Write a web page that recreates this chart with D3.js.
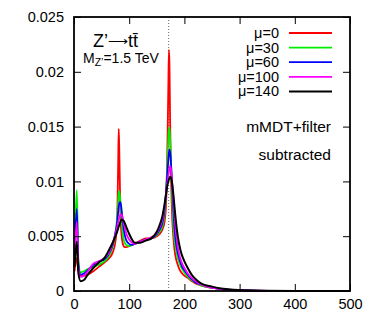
<!DOCTYPE html>
<html><head><meta charset="utf-8">
<script src="https://cdn.jsdelivr.net/npm/d3@7"></script>
<style>body{margin:0;background:#fff}svg{display:block}text{font-family:"Liberation Sans",Arial,sans-serif}</style>
</head><body>
<svg id="c" width="376" height="319"></svg>
<script>
const mass = [1,5,8,12,18,25,35,45,55,62,70,75,78,80,81,82,84,86,88,90,92,95,100,105,110,120,130,140,150,155,160,164,167,169,171,172,173,174,175,176,178,180,182,185,188,190,193,196,200,206,213,220,230,250,270,300,350,400,450,500];
const mu0 = [0.0018,0.0030,0.0018,0.0014,0.0014,0.0015,0.0018,0.0022,0.0026,0.0029,0.0035,0.0045,0.0062,0.0115,0.0148,0.0130,0.0072,0.0052,0.0044,0.0041,0.0040,0.0040,0.0041,0.0042,0.0043,0.0046,0.0048,0.0048,0.0050,0.0052,0.0056,0.0063,0.0082,0.0125,0.0190,0.0220,0.0205,0.0160,0.0128,0.0100,0.0066,0.0049,0.0038,0.0029,0.0024,0.0021,0.0018,0.0016,0.0014,0.0012,0.0009,0.0007,0.0005,0.0003,0.00015,0.00006,0.00001,0,0,0];
const mu30 = [0.0040,0.0092,0.0028,0.0017,0.0018,0.0020,0.0022,0.0024,0.0027,0.0031,0.0040,0.0052,0.0066,0.0082,0.0089,0.0091,0.0082,0.0066,0.0054,0.0047,0.0044,0.0042,0.0041,0.0042,0.0043,0.0045,0.0047,0.0048,0.0051,0.0054,0.0059,0.0070,0.0090,0.0115,0.0140,0.0148,0.0149,0.0140,0.0128,0.0113,0.0082,0.0060,0.0047,0.0037,0.0030,0.0027,0.0023,0.0020,0.0017,0.0013,0.0010,0.0008,0.0005,0.0003,0.00015,0.00006,0.00001,0,0,0];
const mu60 = [0.0035,0.0075,0.0024,0.0015,0.0016,0.0019,0.0024,0.0027,0.0029,0.0033,0.0042,0.0053,0.0062,0.0072,0.0077,0.0080,0.0081,0.0075,0.0065,0.0057,0.0051,0.0046,0.0043,0.0042,0.0043,0.0045,0.0047,0.0048,0.0052,0.0056,0.0062,0.0074,0.0092,0.0107,0.0120,0.0126,0.0129,0.0127,0.0122,0.0114,0.0095,0.0075,0.0058,0.0043,0.0035,0.0031,0.0026,0.0022,0.0019,0.0015,0.0011,0.0008,0.0006,0.0003,0.00016,0.00007,0.00001,0,0,0];
const mu100 = [0.0030,0.0063,0.0021,0.0013,0.0014,0.0018,0.0025,0.0027,0.0030,0.0034,0.0043,0.0052,0.0058,0.0063,0.0065,0.0067,0.0069,0.0070,0.0067,0.0062,0.0058,0.0052,0.0047,0.0044,0.0043,0.0045,0.0047,0.0049,0.0053,0.0058,0.0065,0.0077,0.0090,0.0099,0.0106,0.0109,0.0112,0.0114,0.0113,0.0110,0.0098,0.0084,0.0069,0.0052,0.0040,0.0035,0.0029,0.0025,0.0021,0.0016,0.0012,0.0009,0.0006,0.0003,0.00017,0.00008,0.00002,0,0,0];
const mu140 = [0.0022,0.0045,0.0016,0.0009,0.0010,0.0015,0.0021,0.0026,0.0030,0.0036,0.0044,0.0050,0.0054,0.0057,0.0059,0.0060,0.0063,0.0065,0.0065,0.0064,0.0062,0.0058,0.0052,0.0047,0.0044,0.0044,0.0046,0.0048,0.0054,0.0060,0.0068,0.0079,0.0089,0.0096,0.0100,0.0102,0.0103,0.0104,0.0104,0.0103,0.0097,0.0088,0.0077,0.0062,0.0050,0.0044,0.0037,0.0032,0.0027,0.0021,0.0015,0.0011,0.0007,0.0004,0.0002,0.00008,0.00002,0,0,0];
const seriesNames = ["μ=0","μ=30","μ=60","μ=100","μ=140"];
const seriesValues = [mu0, mu30, mu60, mu100, mu140];
const seriesColors = ["#ff0000","#00ee00","#0000ff","#ff00ff","#000000"];
const xTicks = [0,100,200,300,400,500];
const yTicks = [0,0.005,0.01,0.015,0.02,0.025];
const yTickLabels = ["0","0.005","0.01","0.015","0.02","0.025"];
const topMass = 171.5;

const svg = d3.select("#c");
const L=74, R=350, T=17, B=291;
const x = d3.scaleLinear().domain([0,500]).range([L,R]);
const y = d3.scaleLinear().domain([0,0.025]).range([B,T]);

svg.append("line").attr("x1",x(topMass)).attr("x2",x(topMass)).attr("y1",T).attr("y2",B)
  .attr("stroke","#666").attr("stroke-width",1).attr("stroke-dasharray","1,2");

const line = d3.line().x(d=>x(d[0])).y(d=>y(d[1])).curve(d3.curveMonotoneX);
seriesValues.forEach((vals,i)=>{
  svg.append("path").attr("d",line(mass.map((m,j)=>[m,vals[j]])))
    .attr("fill","none").attr("stroke",seriesColors[i]).attr("stroke-width",i===4?2:1.8)
    .attr("stroke-linejoin","round");
});

const fs = "14.5px";
const ax = svg.append("g").attr("transform",`translate(0,${B})`)
  .call(d3.axisBottom(x).tickValues(xTicks).tickSizeInner(-7).tickSizeOuter(0).tickPadding(8).tickFormat(d3.format("d")));
const ay = svg.append("g").attr("transform",`translate(${L},0)`)
  .call(d3.axisLeft(y).tickValues(yTicks).tickSizeInner(-7).tickSizeOuter(0).tickPadding(10).tickFormat((d,i)=>yTickLabels[i]));
const at = svg.append("g").attr("transform",`translate(0,${T})`)
  .call(d3.axisTop(x).tickValues(xTicks).tickSizeInner(-7).tickSizeOuter(0).tickFormat(""));
const ar = svg.append("g").attr("transform",`translate(${R},0)`)
  .call(d3.axisRight(y).tickValues(yTicks).tickSizeInner(-7).tickSizeOuter(0).tickFormat(""));
[ax,ay,at,ar].forEach(g=>{
  g.select(".domain").remove();
  g.selectAll("text").attr("font-size",fs).attr("fill","#000").attr("font-family","Liberation Sans, Arial, sans-serif");
  g.selectAll("line").attr("stroke","#000").attr("stroke-width",1);
});
svg.append("rect").attr("x",L).attr("y",T).attr("width",R-L).attr("height",B-T)
  .attr("fill","none").attr("stroke","#000").attr("stroke-width",1.8);

seriesNames.forEach((n,i)=>{
  const yy = 33 + i*14.6;
  svg.append("text").attr("x",279).attr("y",yy).attr("dy","0.35em").attr("text-anchor","end")
    .attr("font-size",fs).text(n);
  svg.append("line").attr("x1",289).attr("x2",332).attr("y1",yy).attr("y2",yy)
    .attr("stroke",seriesColors[i]).attr("stroke-width",i===4?2:1.8);
});
svg.append("text").attr("x",331).attr("y",127).attr("dy","0.35em").attr("text-anchor","end").attr("font-size","15.5px").text("mMDT+filter");
svg.append("text").attr("x",331).attr("y",155).attr("dy","0.35em").attr("text-anchor","end").attr("font-size","15.5px").text("subtracted");

const t1 = svg.append("text").attr("x",93).attr("y",47).attr("font-size","18px");
t1.append("tspan").text("Z’");
t1.append("tspan").attr("font-size","14px").attr("dy","-1").text("⟶");
t1.append("tspan").attr("dy","1").text("tt̄");
const t2 = svg.append("text").attr("x",83).attr("y",63).attr("font-size","14px");
t2.append("tspan").text("M");
t2.append("tspan").attr("font-size","10.5px").attr("dy","3").text("Z’");
t2.append("tspan").attr("dy","-3").text("=1.5 TeV");
</script>
</body></html>
